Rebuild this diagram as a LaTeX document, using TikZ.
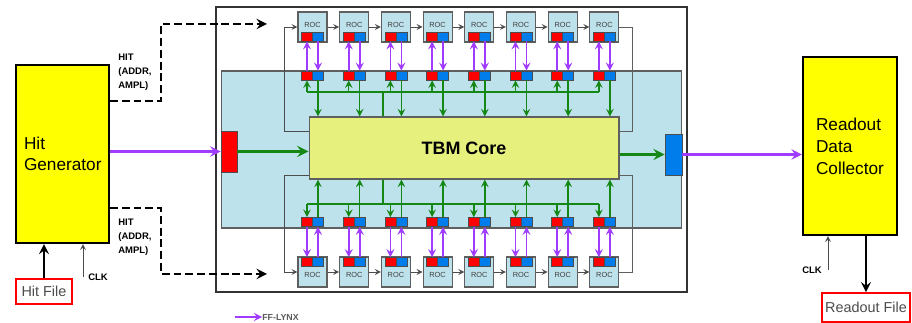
\documentclass[tikz,border=0pt]{standalone}
\usepackage{fontspec}
\setmainfont{Liberation Sans}
\usetikzlibrary{arrows.meta, positioning}
\definecolor{genyellow}{RGB}{255,255,0}
\definecolor{coreyellow}{RGB}{230,240,125}
\definecolor{hubblue}{RGB}{190,226,236}
\definecolor{portred}{RGB}{255,0,0}
\definecolor{portblue}{RGB}{0,125,235}
\definecolor{lynx}{RGB}{160,60,255}
\definecolor{busgreen}{RGB}{20,135,20}
\definecolor{edgegray}{RGB}{95,95,95}
\tikzstyle{block} = [rectangle, draw=black, line width=1.2pt, fill=genyellow, align=left, font=\fontsize{9.8}{12}\selectfont, minimum height=3.56cm]
\tikzstyle{filebox} = [rectangle, draw=red, line width=0.9pt, fill=white, text=black!70, font=\fontsize{8.2}{10}\selectfont, inner sep=0pt]
\tikzstyle{roc} = [rectangle, draw=edgegray, line width=0.6pt, fill=hubblue, minimum width=0.58cm, minimum height=0.6cm, inner sep=0pt]
\tikzstyle{roclabel} = [text=black!75, font=\fontsize{4.2}{5}\selectfont, inner sep=0pt]
\tikzstyle{redport} = [rectangle, draw=black!70, line width=0.4pt, fill=portred, minimum width=0.22cm, minimum height=0.18cm, inner sep=0pt]
\tikzstyle{blueport} = [redport, fill=portblue]
\tikzstyle{sigtext} = [align=left, font=\bfseries\fontsize{5.4}{8}\selectfont, inner sep=0pt]
\tikzstyle{ffarrow} = [draw=lynx, line width=1pt, ->, >=stealth]
\tikzstyle{busarrow} = [draw=busgreen, line width=0.9pt, ->, >=stealth]
\tikzstyle{chain} = [draw=black!70, line width=0.5pt, ->, >=stealth]
\tikzstyle{hitbus} = [draw=black, line width=1.6pt, dash pattern=on 4.5pt off 2.2pt, ->, >=stealth]
\tikzstyle{thickarrow} = [draw=black, line width=1.5pt, ->, >=stealth]

\begin{document}
\begin{tikzpicture}[x=0.02cm, y=-0.02cm]
    \useasboundingbox (0,0) rectangle (912,323);

    % Chip and TBM
    \node (chip) [rectangle, draw=black!80, line width=1pt, minimum width=9.42cm, minimum height=5.7cm] at (451.5,149.5) {};
    \node (hub) [rectangle, draw=edgegray, line width=0.6pt, fill=hubblue, minimum width=9.22cm, minimum height=3.14cm] at (451.5,149.5) {};
    \node (tbm) [rectangle, draw=edgegray, line width=0.6pt, fill=coreyellow, minimum width=6.2cm, minimum height=1.24cm, font=\bfseries\fontsize{10.2}{12}\selectfont] at (464,148) {TBM Core};
    \node (tbmin) [rectangle, draw=black!70, line width=0.4pt, fill=portred, minimum width=0.32cm, minimum height=0.82cm] at (229,151.5) {};
    \node (tbmout) [rectangle, draw=black!70, line width=0.4pt, fill=portblue, minimum width=0.34cm, minimum height=0.82cm] at (673.5,154.5) {};

    % ROC rows
    \foreach \i in {0,...,7} {
        \pgfmathsetmacro\xc{312.5+41.7*\i}
        \node (rt\i) [roc] at (\xc,27) {};
        \node (lt\i) [roclabel] at (\xc,24.5) {ROC};
        \node (ptr\i) [redport] at (\xc-5.5,36.5) {};
        \node (ptb\i) [blueport] at (\xc+5.5,36.5) {};
        \node (mtr\i) [redport] at (\xc-5.5,75.5) {};
        \node (mtb\i) [blueport] at (\xc+5.5,75.5) {};
        \coordinate (bt\i) at (\xc-5.5,92);
        \node (rb\i) [roc] at (\xc,272) {};
        \node (lb\i) [roclabel] at (\xc,275) {ROC};
        \node (pbr\i) [redport] at (\xc-5.5,262) {};
        \node (pbb\i) [blueport] at (\xc+5.5,262) {};
        \node (mbr\i) [redport] at (\xc-5.5,222) {};
        \node (mbb\i) [blueport] at (\xc+5.5,222) {};
        \coordinate (bb\i) at (\xc-5.5,204);
    }

    % Outside blocks
    \node (hitgen) [block, text width=1.54cm, inner xsep=0.16cm] at (62.5,154) {Hit\\Generator};
    \node (collector) [block, text width=1.36cm, inner xsep=0.26cm, font=\fontsize{9.8}{12.6}\selectfont] at (850,146) {Readout\\Data\\Collector};
    \node (hitfile) [filebox, minimum width=1.12cm, minimum height=0.5cm] at (44,291.5) {Hit File};
    \node (readout) [filebox, minimum width=1.76cm, minimum height=0.58cm] at (866,307.5) {Readout File};

    % Labels
    \node (hittxt) [sigtext, anchor=west] at (118,72) {HIT\\(ADDR,\\AMPL)};
    \node (hitbtxt) [sigtext, anchor=west] at (118,237) {HIT\\(ADDR,\\AMPL)};
    \node (clkl) [sigtext] at (98,277) {CLK};
    \node (clkr) [sigtext] at (812,270) {CLK};
    \node (fflynx) [sigtext, anchor=west, text=black!65, font=\bfseries\fontsize{5}{6}\selectfont] at (262,317) {FF-LYNX};
    \coordinate (hittop) at (267,24);
    \coordinate (hitbot) at (267,274);
    \coordinate (clkin) at (83,277);
    \coordinate (clkout) at (828,270);
    \coordinate (trunkt) at (383,92);
    \coordinate (trunkb) at (383,204);
    \coordinate (legstart) at (235,317);

    % Arrows
    \draw [hitbus] ([yshift=1.06cm]hitgen.east) -- ++(51,0) |- (hittop);
    \draw [hitbus] ([yshift=-1.08cm]hitgen.east) -- ++(51,0) |- (hitbot);
    \draw [ffarrow, line width=1.6pt] (hitgen.east |- tbmin.west) -- (tbmin.west);
    \draw [busarrow, line width=1.8pt] (tbmin.east) -- (tbmin.east -| tbm.west);
    \draw [busarrow, line width=1.8pt] (tbm.east |- tbmout.west) -- (tbmout.west);
    \draw [ffarrow, line width=1.6pt] (tbmout.east) -- (tbmout.east -| collector.west);
    \draw [thickarrow] (hitfile.north) -- (hitfile.north |- hitgen.south);
    \draw [chain] (clkin) -- (clkin |- hitgen.south);
    \draw [chain] (clkout) -- (clkout |- collector.south);
    \draw [thickarrow] (readout.north |- collector.south) -- (readout.north);
    \draw [ffarrow] (legstart) -- (fflynx.west);

    % Token loops
    \draw [chain, <-] (rt0.west) -- ++(-13,0) |- ([yshift=0.34cm]tbm.west);
    \draw [edgegray, line width=0.5pt] (rt7.east) -- ++(13,0) |- ([yshift=0.34cm]tbm.east);
    \draw [chain, <-] (rb0.west) -- ++(-13,0) |- ([yshift=-0.54cm]tbm.west);
    \draw [edgegray, line width=0.5pt] (rb7.east) -- ++(13,0) |- ([yshift=-0.54cm]tbm.east);
    \foreach \i [count=\j from 1] in {0,...,6} {
        \draw [chain] (rt\i.east) -- (rt\j.west);
        \draw [chain] (rb\i.east) -- (rb\j.west);
    }

    % Buses
    \draw [busgreen, line width=0.9pt] (bt0) -- (bt7);
    \draw [busgreen, line width=0.9pt] (bb0) -- (bb7);
    \draw [busgreen, line width=0.9pt] (trunkt) -- (trunkt |- tbm.north);
    \draw [busgreen, line width=0.9pt] (trunkb) -- (trunkb |- tbm.south);
    \foreach \i in {0,...,7} {
        \draw [ffarrow] (mtr\i.north) -- (ptr\i.south);
        \draw [ffarrow] (ptb\i.south) -- (mtb\i.north);
        \draw [ffarrow] (mbr\i.south) -- (pbr\i.north);
        \draw [ffarrow] (pbb\i.north) -- (mbb\i.south);
        \draw [busarrow] (bt\i) -- (mtr\i.south);
        \draw [busarrow] (mtb\i.south) -- (mtb\i.south |- tbm.north);
        \draw [busarrow] (bb\i) -- (mbr\i.north);
        \draw [busarrow] (mbb\i.north) -- (mbb\i.north |- tbm.south);
    }

\end{tikzpicture}
\end{document}
